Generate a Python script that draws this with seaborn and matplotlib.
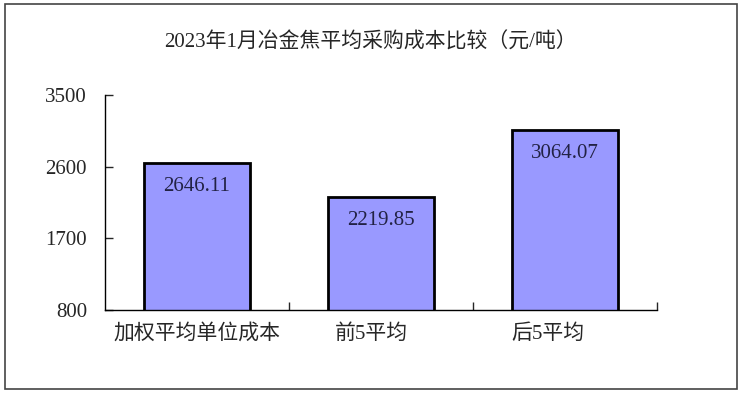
import matplotlib
matplotlib.use("Agg")
import matplotlib.pyplot as plt
import matplotlib.transforms as mtransforms
import seaborn as sns
import pandas as pd
from matplotlib.patches import Rectangle

# chart data
categories = ["加权平均单位成本", "前5平均", "后5平均"]
costs = [2646.11, 2219.85, 3064.07]
y_ticks = [800, 1700, 2600, 3500]
title = "2023年1月冶金焦平均采购成本比较（元/吨）"

df = pd.DataFrame({"类别": categories, "成本": costs})

sns.set_style("white")
plt.rcParams["font.family"] = ["Liberation Serif", "Noto Sans CJK SC"]
plt.rcParams["axes.unicode_minus"] = False

fig = plt.figure(figsize=(7.42, 3.95), dpi=100)
ax = fig.add_axes([105 / 742, 1 - 310 / 395, (657 - 105) / 742, (310 - 95) / 395])

sns.barplot(data=df, x="类别", y="成本", color="#9999FF", saturation=1,
            edgecolor="black", linewidth=2, width=0.58, ax=ax)

# value labels inside the bars
for i, v in enumerate(costs):
    ax.annotate(f"{v:.2f}", xy=(i, v), xytext=(0, -24), textcoords="offset pixels",
                ha="center", va="center", fontsize=15, color="#222244")

ax.set_ylim(800, 3500)
ax.set_xlim(-0.5, len(categories) - 0.5)
ax.set_yticks(y_ticks)
ax.set_yticklabels([str(t) for t in y_ticks])
ax.tick_params(axis="y", direction="in", length=6, width=1, pad=13, labelsize=15, left=True)

# category boundaries get the ticks, names sit centred as minor ticks
ax.set_xticks([i + 0.5 for i in range(len(categories))])
ax.set_xticklabels([])
ax.set_xticks(range(len(categories)), minor=True)
ax.set_xticklabels(categories, minor=True)
ax.tick_params(axis="x", which="major", direction="in", length=6, width=1, bottom=True)
ax.tick_params(axis="x", which="minor", length=0, pad=10, labelsize=15)

# the short labels sit a bit left of centre in the original
shifts = [0, -10, -17]
for lab, dx in zip(ax.get_xticklabels(minor=True), shifts):
    lab.set_transform(lab.get_transform() +
                      mtransforms.ScaledTranslation(dx / 100, 0, fig.dpi_scale_trans))

ax.set_xlabel("")
ax.set_ylabel("")
for side in ["top", "right"]:
    ax.spines[side].set_visible(False)
for side in ["left", "bottom"]:
    ax.spines[side].set_color("black")
    ax.spines[side].set_linewidth(1)

fig.text(370 / 742, 1 - 43 / 395, title, ha="center", va="center", fontsize=15)

# outer frame around the chart area
fig.patches.append(Rectangle((5 / 742, 1 - 389 / 395), (737 - 5) / 742, (389 - 4) / 395,
                             transform=fig.transFigure, fill=False,
                             edgecolor="#444444", linewidth=1.2))

fig.savefig("out.png", dpi=100)
